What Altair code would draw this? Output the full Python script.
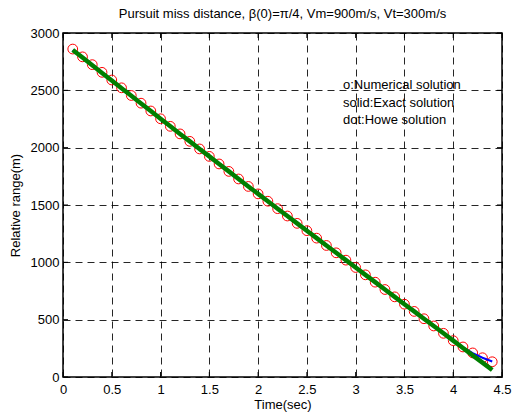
import altair as alt
import pandas as pd

# Sample times (s)
t = [0.1, 0.2, 0.3, 0.4, 0.5, 0.6, 0.7, 0.8, 0.9, 1.0,
     1.1, 1.2, 1.3, 1.4, 1.5, 1.6, 1.7, 1.8, 1.9, 2.0,
     2.1, 2.2, 2.3, 2.4, 2.5, 2.6, 2.7, 2.8, 2.9, 3.0,
     3.1, 3.2, 3.3, 3.4, 3.5, 3.6, 3.7, 3.8, 3.9, 4.0,
     4.1, 4.2, 4.3, 4.4]

# Relative range (m): numerical integration
r_numerical = [2860, 2792, 2724, 2657, 2590, 2522, 2455, 2388, 2320, 2252,
               2186, 2120, 2055, 1989, 1924, 1858, 1793, 1727, 1662, 1597,
               1533, 1468, 1404, 1340, 1276, 1211, 1147, 1083, 1019, 955,
               891, 827, 763, 699, 635, 572, 508, 445, 381, 317,
               262, 210, 168, 133]

# Relative range (m): exact solution
r_exact = [2852, 2786, 2719, 2652, 2586, 2519, 2452, 2386, 2319, 2252,
           2186, 2120, 2055, 1989, 1924, 1858, 1793, 1727, 1662, 1597,
           1533, 1468, 1404, 1340, 1276, 1211, 1147, 1083, 1019, 955,
           891, 827, 763, 699, 635, 572, 508, 445, 381, 317,
           253, 189, 125, 61]

# Relative range (m): Howe approximation
r_howe = [2852, 2786, 2719, 2652, 2586, 2519, 2452, 2386, 2319, 2252,
          2186, 2120, 2055, 1989, 1924, 1858, 1793, 1727, 1662, 1597,
          1533, 1468, 1404, 1340, 1276, 1211, 1147, 1083, 1019, 955,
          891, 827, 763, 699, 635, 572, 508, 445, 381, 317,
          258, 208, 168, 135]

x_ticks = [0, 0.5, 1, 1.5, 2, 2.5, 3, 3.5, 4, 4.5]
y_ticks = [0, 500, 1000, 1500, 2000, 2500, 3000]

notes = ["o:Numerical solution", "solid:Exact solution", "dot:Howe solution"]
note_x = [2.87, 2.87, 2.87]
note_y = [2547, 2392, 2243]

W, H = 439, 344
FONT = "Liberation Sans"

df = pd.DataFrame({"t": t, "num": r_numerical, "exact": r_exact, "howe": r_howe})
notes_df = pd.DataFrame({"label": notes, "x": note_x, "y": note_y})
xt_df = pd.DataFrame({"v": x_ticks})
yt_df = pd.DataFrame({"v": y_ticks})

xscale = alt.Scale(domain=[0, 4.5], nice=False, zero=False)
yscale = alt.Scale(domain=[0, 3000], nice=False)

x_axis = alt.Axis(values=x_ticks, title="Time(sec)", grid=True, ticks=False,
                  domain=False, labelPadding=6, titlePadding=2,
                  labelFlush=False, format="~g")
y_axis = alt.Axis(values=y_ticks, title="Relative range(m)", grid=True,
                  ticks=False, domain=False, labelPadding=4, titlePadding=8,
                  format="d")

base = alt.Chart(df)

circles = base.mark_point(shape="circle", filled=False, color="#ff0000",
                          size=95, strokeWidth=1, opacity=1).encode(
    x=alt.X("t:Q", scale=xscale, axis=x_axis),
    y=alt.Y("num:Q", scale=yscale, axis=y_axis),
)

howe = base.mark_line(color="#0000ff", strokeWidth=2).encode(
    x=alt.X("t:Q", scale=xscale),
    y=alt.Y("howe:Q", scale=yscale),
)

exact = base.mark_line(color="#007f00", strokeWidth=4.5).encode(
    x=alt.X("t:Q", scale=xscale),
    y=alt.Y("exact:Q", scale=yscale),
)

note_text = alt.Chart(notes_df).mark_text(
    align="left", baseline="middle", font=FONT, fontSize=13, color="#000"
).encode(
    x=alt.X("x:Q", scale=xscale),
    y=alt.Y("y:Q", scale=yscale),
    text="label:N",
)

# Inward tick marks on all four sides of the frame
tick_style = dict(color="#000", strokeWidth=1)
bottom_ticks = alt.Chart(xt_df).mark_rule(**tick_style).encode(
    x=alt.X("v:Q", scale=xscale), y=alt.value(H), y2=alt.value(H - 5))
top_ticks = alt.Chart(xt_df).mark_rule(**tick_style).encode(
    x=alt.X("v:Q", scale=xscale), y=alt.value(0), y2=alt.value(5))
left_ticks = alt.Chart(yt_df).mark_rule(**tick_style).encode(
    y=alt.Y("v:Q", scale=yscale), x=alt.value(0), x2=alt.value(5))
right_ticks = alt.Chart(yt_df).mark_rule(**tick_style).encode(
    y=alt.Y("v:Q", scale=yscale), x=alt.value(W), x2=alt.value(W - 5))

chart = alt.layer(
    circles, howe, exact, note_text,
    bottom_ticks, top_ticks, left_ticks, right_ticks,
).properties(
    width=W,
    height=H,
    autosize="none",
    padding={"left": 63, "top": 33, "right": 11, "bottom": 37},
    background="#ffffff",
    title=alt.TitleParams(
        "Pursuit miss distance, β(0)=π/4, Vm=900m/s, Vt=300m/s",
        font=FONT, fontSize=13, fontWeight="normal", color="#000",
        anchor="middle", offset=6,
    ),
).configure_view(
    stroke="#000", strokeWidth=1.5
).configure_axis(
    labelFont=FONT, labelFontSize=13, labelColor="#000",
    titleFont=FONT, titleFontSize=13, titleFontWeight="normal", titleColor="#000",
    gridColor="#000", gridDash=[7, 5], gridWidth=1, gridOpacity=0.85,
)

chart.save("out.html", embed_options={"renderer": "svg", "actions": False})
